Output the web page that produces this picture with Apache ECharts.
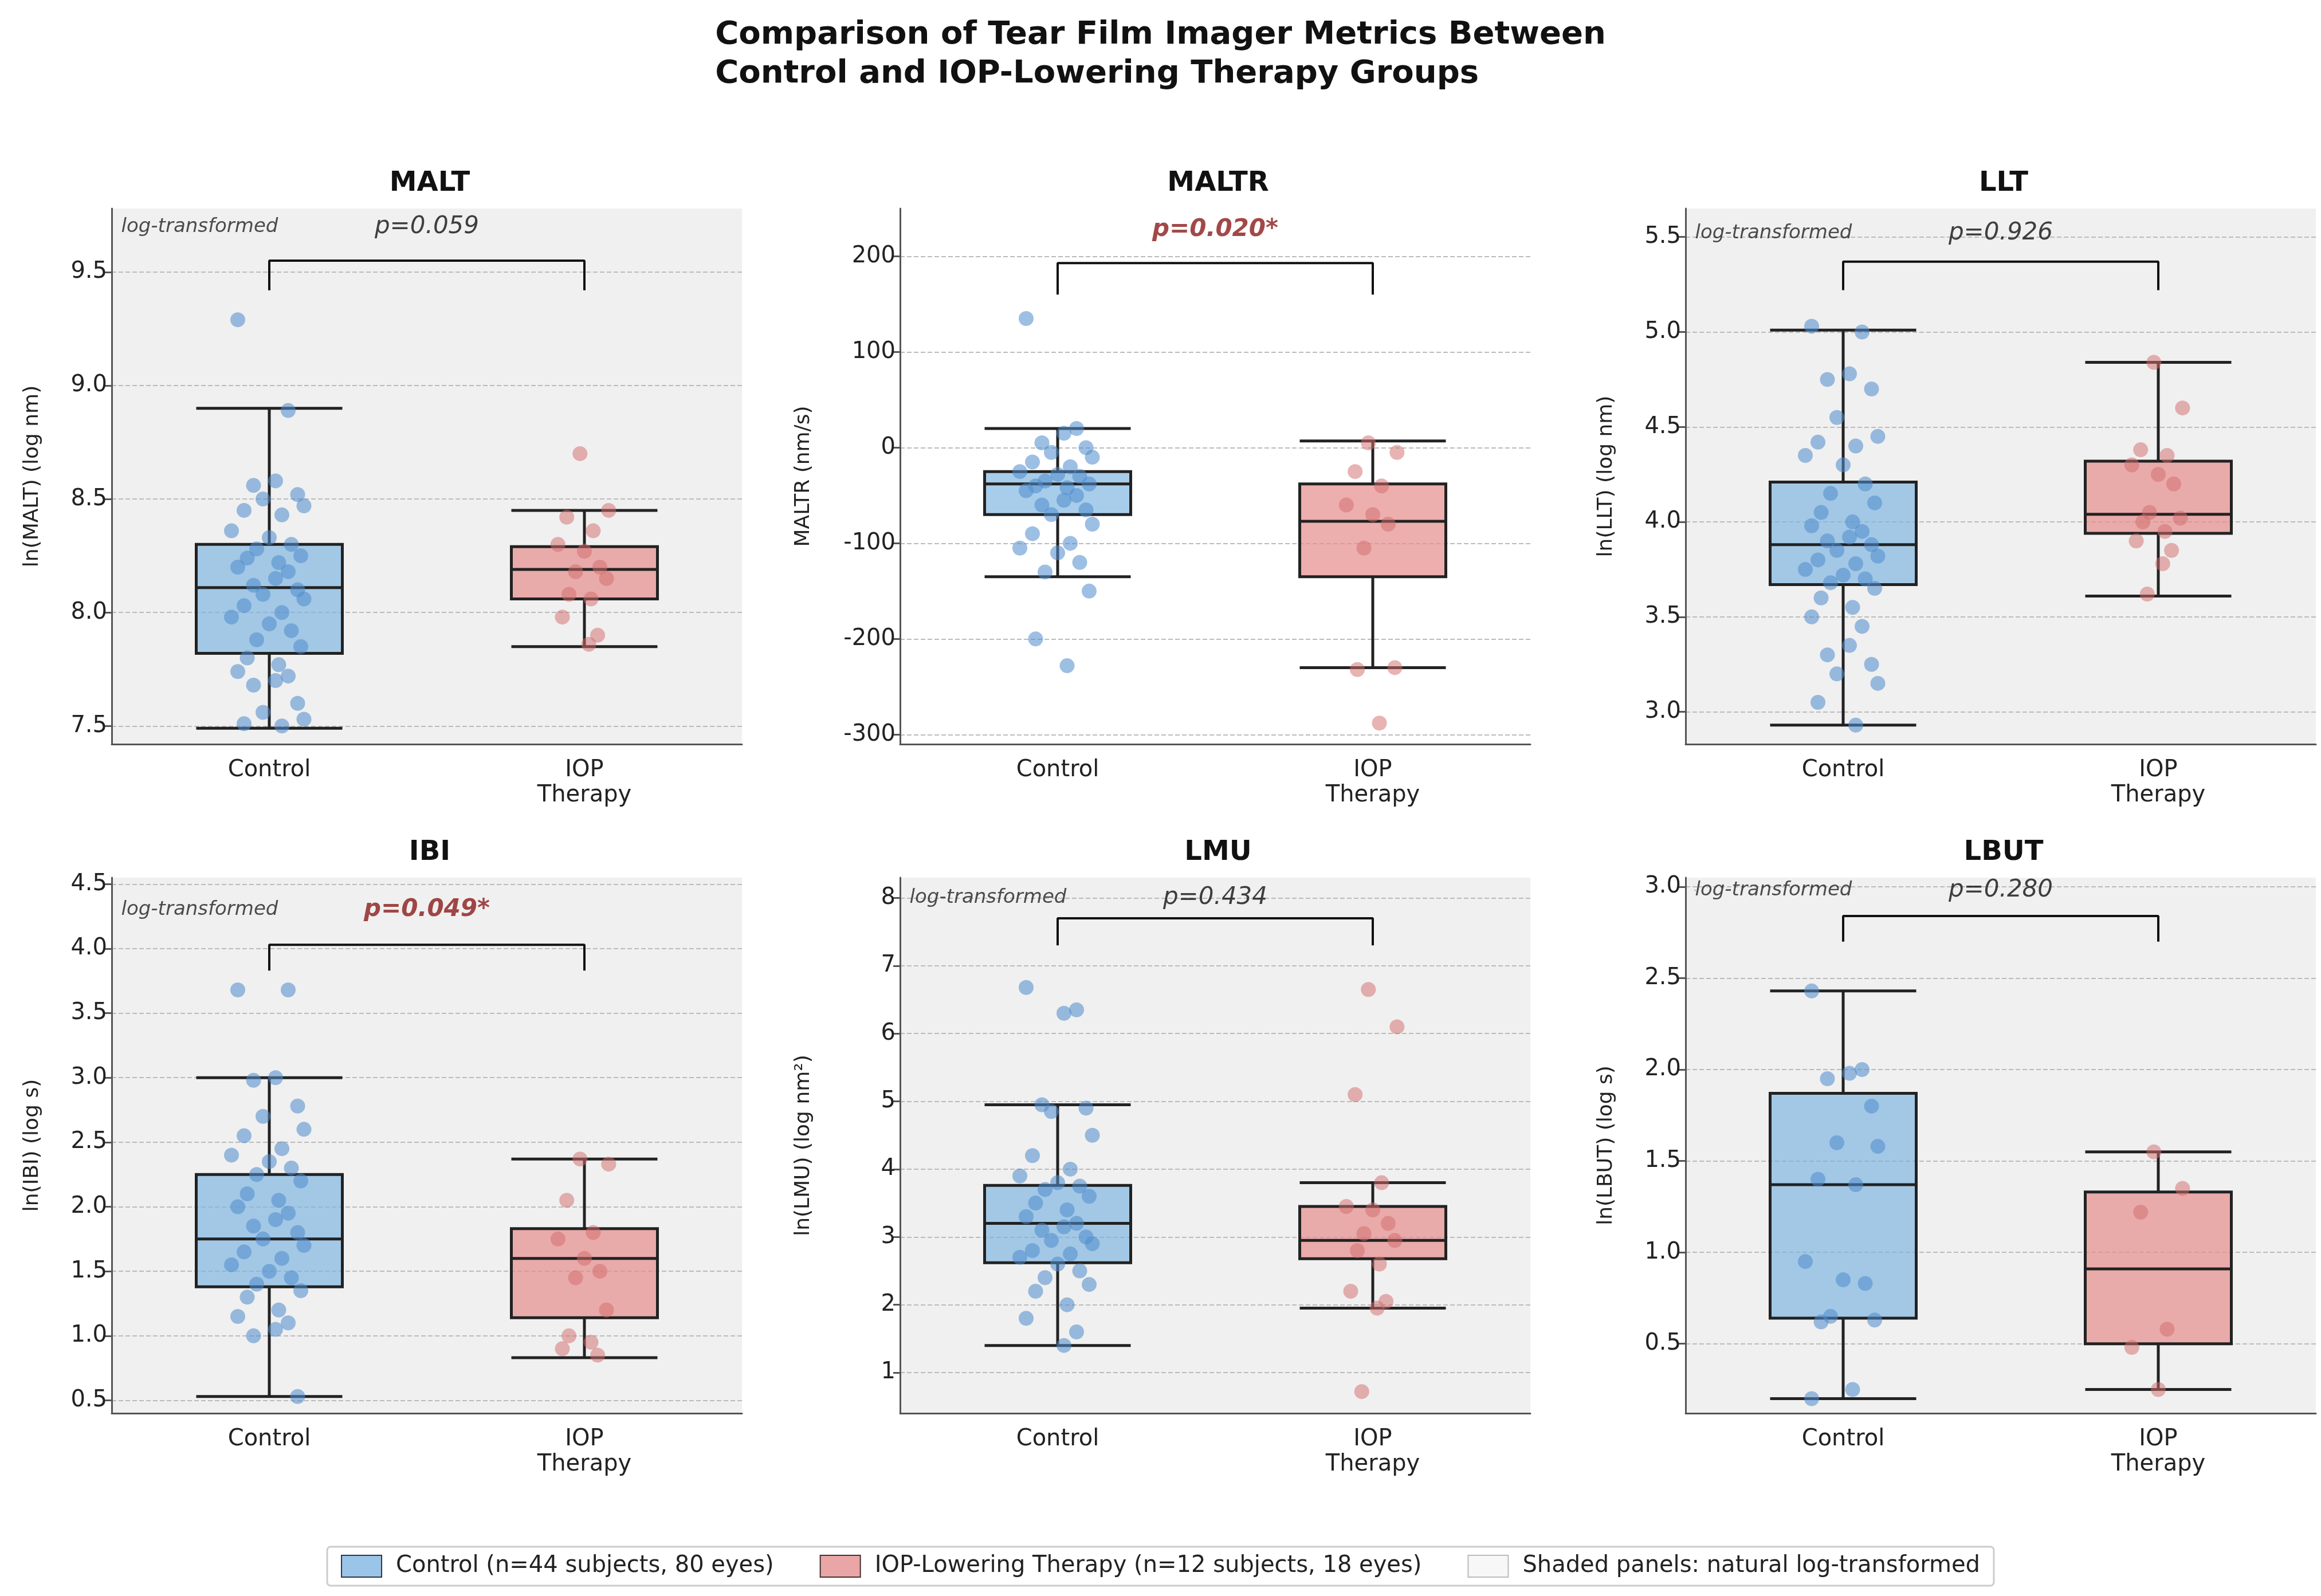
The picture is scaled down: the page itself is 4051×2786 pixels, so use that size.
<!DOCTYPE html>
<html>
<head>
<meta charset="utf-8">
<script src="https://cdn.jsdelivr.net/npm/echarts@6/dist/echarts.min.js"></script>
<style>html,body{margin:0;padding:0;background:#fff}#chart{width:4051px;height:2786px}</style>
</head>
<body>
<div id="chart"></div>
<script>
// panel info
var panelNames = ['MALT', 'MALTR', 'LLT', 'IBI', 'LMU', 'LBUT'];
var yNames = ['ln(MALT) (log nm)', 'MALTR (nm/s)', 'ln(LLT) (log nm)', 'ln(IBI) (log s)', 'ln(LMU) (log nm²)', 'ln(LBUT) (log s)'];
var pTexts = ['p=0.059', 'p=0.020*', 'p=0.926', 'p=0.049*', 'p=0.434', 'p=0.280'];
var pSig = [false, true, false, true, false, false];
var logged = [true, false, true, true, true, true];
var categories = ['Control', 'IOP\nTherapy'];

var yMin = [7.42, -310, 2.83, 0.4, 0.4, 0.12];
var yMax = [9.78, 250, 5.65, 4.55, 8.3, 3.05];
var yTicks = [
  [7.5, 8.0, 8.5, 9.0, 9.5],
  [-300, -200, -100, 0, 100, 200],
  [3.0, 3.5, 4.0, 4.5, 5.0, 5.5],
  [0.5, 1.0, 1.5, 2.0, 2.5, 3.0, 3.5, 4.0, 4.5],
  [1, 2, 3, 4, 5, 6, 7, 8],
  [0.5, 1.0, 1.5, 2.0, 2.5, 3.0]
];
var tickDigits = [1, 0, 1, 1, 0, 1];

// [min, Q1, median, Q3, max]
var boxControl = [
  [7.49, 7.82, 8.11, 8.30, 8.90],
  [-135, -70, -38, -25, 20],
  [2.93, 3.67, 3.88, 4.21, 5.01],
  [0.53, 1.38, 1.75, 2.25, 3.0],
  [1.4, 2.62, 3.2, 3.76, 4.95],
  [0.2, 0.64, 1.37, 1.87, 2.43]
];
var boxIop = [
  [7.85, 8.06, 8.19, 8.29, 8.45],
  [-230, -135, -77, -38, 7],
  [3.61, 3.94, 4.04, 4.32, 4.84],
  [0.83, 1.14, 1.6, 1.83, 2.37],
  [1.95, 2.68, 2.95, 3.45, 3.8],
  [0.25, 0.5, 0.91, 1.33, 1.55]
];

var ptsControl = [
  [9.29, 8.89, 8.58, 8.56, 8.52, 8.5, 8.47, 8.45, 8.43, 8.36, 8.33, 8.3, 8.28, 8.25, 8.24, 8.22, 8.2, 8.18, 8.15, 8.12, 8.1, 8.08, 8.06, 8.03, 8.0, 7.98, 7.95, 7.92, 7.88, 7.85, 7.8, 7.77, 7.74, 7.72, 7.7, 7.68, 7.6, 7.56, 7.53, 7.51, 7.5],
  [135, 20, 15, 5, 0, -5, -10, -15, -20, -25, -28, -30, -35, -38, -40, -42, -45, -50, -55, -60, -65, -70, -80, -90, -100, -105, -110, -120, -130, -150, -200, -228],
  [5.03, 5.0, 4.78, 4.75, 4.7, 4.55, 4.45, 4.42, 4.4, 4.35, 4.3, 4.2, 4.15, 4.1, 4.05, 4.0, 3.98, 3.95, 3.92, 3.9, 3.88, 3.85, 3.82, 3.8, 3.78, 3.75, 3.72, 3.7, 3.68, 3.65, 3.6, 3.55, 3.5, 3.45, 3.35, 3.3, 3.25, 3.2, 3.15, 3.05, 2.93],
  [3.68, 3.68, 3.0, 2.98, 2.78, 2.7, 2.6, 2.55, 2.45, 2.4, 2.35, 2.3, 2.25, 2.2, 2.1, 2.05, 2.0, 1.95, 1.9, 1.85, 1.8, 1.75, 1.7, 1.65, 1.6, 1.55, 1.5, 1.45, 1.4, 1.35, 1.3, 1.2, 1.15, 1.1, 1.05, 1.0, 0.53],
  [6.68, 6.35, 6.3, 4.95, 4.9, 4.85, 4.5, 4.2, 4.0, 3.9, 3.8, 3.75, 3.7, 3.6, 3.5, 3.4, 3.3, 3.2, 3.15, 3.1, 3.0, 2.95, 2.9, 2.8, 2.75, 2.7, 2.6, 2.5, 2.4, 2.3, 2.2, 2.0, 1.8, 1.6, 1.4],
  [2.43, 2.0, 1.98, 1.95, 1.8, 1.6, 1.58, 1.4, 1.37, 0.95, 0.85, 0.83, 0.65, 0.63, 0.62, 0.25, 0.2]
];
var ptsIop = [
  [8.7, 8.45, 8.42, 8.36, 8.3, 8.27, 8.2, 8.18, 8.15, 8.08, 8.06, 7.98, 7.9, 7.86],
  [5, -5, -25, -40, -60, -70, -80, -105, -230, -232, -288],
  [4.84, 4.6, 4.38, 4.35, 4.3, 4.25, 4.2, 4.05, 4.02, 4.0, 3.95, 3.9, 3.85, 3.78, 3.62],
  [2.37, 2.33, 2.05, 1.8, 1.75, 1.6, 1.5, 1.45, 1.2, 1.0, 0.95, 0.9, 0.85],
  [6.65, 6.1, 5.1, 3.8, 3.45, 3.4, 3.2, 3.05, 2.95, 2.8, 2.6, 2.2, 2.05, 1.95, 0.72],
  [1.55, 1.35, 1.22, 0.58, 0.48, 0.25]
];
// horizontal offsets of the dots (fixed strip jitter)
var jitter = [-0.1, 0.06, 0.02, -0.05, 0.09, -0.02, 0.11, -0.08, 0.04, -0.12, 0.0, 0.07, -0.04, 0.1, -0.07, 0.03];

// bracket: [leg bottom, bracket top, text level]
var brackets = [
  [9.42, 9.55, 9.7],
  [160, 193, 228],
  [5.22, 5.37, 5.52],
  [3.83, 4.03, 4.3],
  [7.3, 7.7, 8.0],
  [2.7, 2.84, 2.98]
];

var legendNames = ['Control (n=44 subjects, 80 eyes)', 'IOP-Lowering Therapy (n=12 subjects, 18 eyes)', 'Shaded panels: natural log-transformed'];

var BLUE = 'rgba(120,178,225,0.65)', RED = 'rgba(230,140,140,0.7)';
var BLUE_PT = 'rgba(80,140,205,0.7)', RED_PT = 'rgba(210,110,110,0.65)';

var lefts = [195, 1571, 2942], tops = [364, 1532];
var W = 1100, H = 935;

var grid = [], xAxis = [], yAxis = [], series = [];
for (var i = 0; i < 6; i++) {
  var col = i % 3, row = Math.floor(i / 3);
  grid.push({left: lefts[col], top: tops[row], width: W, height: H,
    show: true, backgroundColor: logged[i] ? '#f0f0f0' : '#ffffff', borderWidth: 0});
  xAxis.push({type: 'category', gridIndex: i, data: categories,
    axisLine: {onZero: false, lineStyle: {color: '#555', width: 3}},
    axisTick: {alignWithLabel: true, length: 12, lineStyle: {color: '#555', width: 3}},
    axisLabel: {fontSize: 40, color: '#222', margin: 24, lineHeight: 44, fontFamily: 'DejaVu Sans'}});
  xAxis.push({type: 'value', gridIndex: i, min: -0.5, max: 1.5, show: false});
  var digits = tickDigits[i];
  yAxis.push({type: 'value', gridIndex: i, min: yMin[i], max: yMax[i],
    name: yNames[i], nameLocation: 'middle', nameGap: digits ? 120 : 150,
    nameTextStyle: {fontSize: 36, color: '#222', fontFamily: 'DejaVu Sans'},
    axisLine: {show: true, onZero: false, lineStyle: {color: '#555', width: 3}},
    axisTick: {show: true, length: 12, customValues: yTicks[i], lineStyle: {color: '#555', width: 3}},
    axisLabel: {fontSize: 40, color: '#222', fontFamily: 'DejaVu Sans', customValues: yTicks[i],
      formatter: (function (d) { return function (v) { return v.toFixed(d); }; })(digits)},
    splitLine: {show: true, lineStyle: {color: '#bbb', type: 'dashed', width: 2}}});

  series.push({type: 'boxplot', xAxisIndex: 2 * i, yAxisIndex: i, boxWidth: [255, 255], z: 2,
    itemStyle: {borderColor: '#222', borderWidth: 5},
    data: [
      {value: boxControl[i], itemStyle: {color: BLUE}},
      {value: boxIop[i], itemStyle: {color: RED}}
    ]});

  var sc = [], si = [];
  ptsControl[i].forEach(function (v, k) { sc.push([jitter[k % jitter.length], v]); });
  ptsIop[i].forEach(function (v, k) { si.push([1 + 0.7 * jitter[(k + 5) % jitter.length], v]); });
  series.push({type: 'scatter', xAxisIndex: 2 * i + 1, yAxisIndex: i, symbolSize: 26, z: 3,
    itemStyle: {color: BLUE_PT}, data: sc});
  series.push({type: 'scatter', xAxisIndex: 2 * i + 1, yAxisIndex: i, symbolSize: 26, z: 3,
    itemStyle: {color: RED_PT}, data: si});

  var b = brackets[i];
  series.push({type: 'line', xAxisIndex: 2 * i + 1, yAxisIndex: i, symbol: 'none', z: 4,
    lineStyle: {color: '#111', width: 4},
    data: [[0, b[0]], [0, b[1]], [1, b[1]], [1, b[0]]]});

  var textData = [{value: [0.5, b[2]], label: {formatter: pTexts[i],
    fontSize: 42, fontStyle: 'italic',
    fontWeight: pSig[i] ? 'bold' : 'normal', color: pSig[i] ? '#8b1a1a' : '#111'}}];
  if (logged[i]) {
    textData.push({value: [-0.47, b[2]], label: {formatter: 'log-transformed', align: 'left',
      fontSize: 34, fontStyle: 'italic', color: '#222'}});
  }
  series.push({type: 'scatter', xAxisIndex: 2 * i + 1, yAxisIndex: i, symbolSize: 0, z: 5,
    label: {show: true, position: 'inside', fontFamily: 'DejaVu Sans'}, data: textData});
}

// dummy series for the legend
series.push({type: 'bar', name: legendNames[0], xAxisIndex: 0, yAxisIndex: 0, data: [],
  itemStyle: {color: 'rgba(120,178,225,0.75)', borderColor: '#334', borderWidth: 3}});
series.push({type: 'bar', name: legendNames[1], xAxisIndex: 0, yAxisIndex: 0, data: [],
  itemStyle: {color: 'rgba(230,150,150,0.85)', borderColor: '#433', borderWidth: 3}});
series.push({type: 'bar', name: legendNames[2], xAxisIndex: 0, yAxisIndex: 0, data: [],
  itemStyle: {color: '#f7f7f7', borderColor: '#bbb', borderWidth: 3}});

var titles = [{text: 'Comparison of Tear Film Imager Metrics Between\nControl and IOP-Lowering Therapy Groups',
  left: 'center', top: 22,
  textStyle: {fontSize: 56, fontWeight: 'bold', color: '#111', lineHeight: 68, fontFamily: 'DejaVu Sans'},
  textAlign: 'left'}];
for (var j = 0; j < 6; j++) {
  titles.push({text: panelNames[j], left: lefts[j % 3] + W / 2, top: tops[Math.floor(j / 3)] - 72,
    textAlign: 'center', textStyle: {fontSize: 48, fontWeight: 'bold', color: '#111', fontFamily: 'DejaVu Sans'}});
}

var myChart = echarts.init(document.getElementById('chart'));
myChart.setOption({
  animation: false,
  backgroundColor: '#fff',
  title: titles,
  grid: grid,
  xAxis: xAxis,
  yAxis: yAxis,
  legend: {data: legendNames, bottom: 18, left: 'center', icon: 'rect', itemWidth: 70, itemHeight: 38,
    itemGap: 80, padding: [14, 24], borderColor: '#ccc', borderWidth: 3, borderRadius: 6,
    textStyle: {fontSize: 40, color: '#222', fontFamily: 'DejaVu Sans', padding: [0, 0, 0, 20]}},
  series: series
});
</script>
</body>
</html>
